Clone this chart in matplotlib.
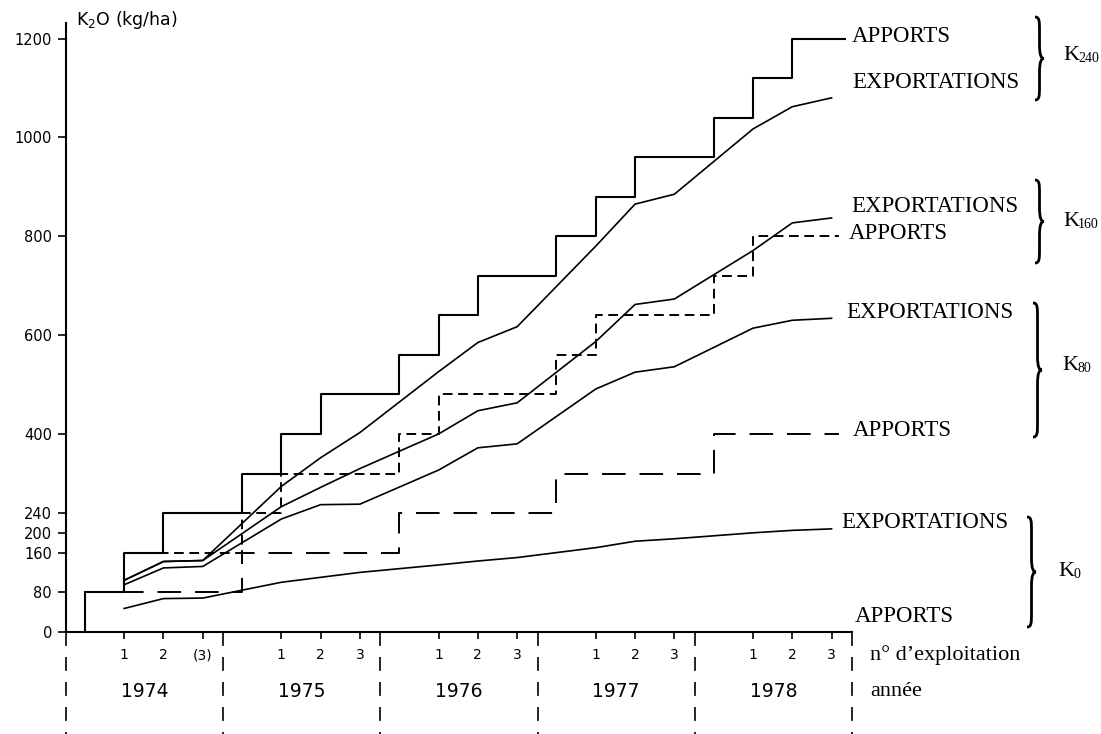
import matplotlib.pyplot as plt
import matplotlib.transforms as mtransforms
from matplotlib.path import Path
from matplotlib.patches import PathPatch

plt.rcParams['lines.scale_dashes'] = False

W, H = 1101, 734

annees = ['1974', '1975', '1976', '1977', '1978']
num_coupes = ['1', '2', '3']
# moments dans l'année (fraction d'année)
printemps = 0.12
coupes = [0.37, 0.62, 0.87]

# exportations cumulées de K2O (kg/ha) à chaque coupe
exp_k240 = [104, 142, 144, 294, 352, 403, 526, 585, 617, 780, 865, 885, 1017, 1062, 1080]
exp_k160 = [104, 142, 144, 253, 292, 330, 400, 447, 463, 587, 662, 673, 771, 827, 837]
exp_k80 = [95, 129, 132, 228, 257, 258, 327, 372, 380, 491, 525, 536, 614, 630, 634]
exp_k0 = [47, 67, 68, 100, 110, 120, 135, 143, 150, 170, 183, 188, 200, 205, 208]

# apports cumulés (kg/ha)
app_k240 = [80, 160, 240, 320, 400, 480, 560, 640, 720, 800, 880, 960, 1040, 1120, 1200]
app_k160 = [80, 160, 240, 320, 400, 480, 560, 640, 720, 800]
app_k80 = [80, 160, 240, 320, 400]

yticks = [0, 80, 160, 200, 240, 400, 600, 800, 1000, 1200]

x_coupes = [i + c for i in range(len(annees)) for c in coupes]
t_k240 = [i + t for i in range(len(annees)) for t in (printemps, coupes[0], coupes[1])]
t_k160 = [i + t for i in range(len(annees)) for t in (printemps, coupes[0])]
t_k80 = [i + printemps for i in range(len(annees))]


def px(x, y):
    return x / W, 1 - y / H


def marches(t, v, fin):
    return [t[0]] + t + [fin], [0] + v + [v[-1]]


fig = plt.figure(figsize=(W / 100, H / 100), dpi=100)
ax = fig.add_axes([66 / W, 102.3 / H, (852 - 66) / W, 609 / H])
ax.set_xlim(0, 5)
ax.set_ylim(0, 1232)

noir = 'black'
x, y = marches(t_k80, app_k80, 4.92)
ax.plot(x, y, drawstyle='steps-post', color=noir, lw=1.4, ls=(0, (17, 10)))
x, y = marches(t_k160, app_k160, 4.92)
ax.plot(x, y, drawstyle='steps-post', color=noir, lw=1.4, ls=(0, (7, 4)))
x, y = marches(t_k240, app_k240, 4.955)
ax.plot(x, y, drawstyle='steps-post', color=noir, lw=1.5)

for serie in (exp_k240, exp_k160, exp_k80, exp_k0):
    ax.plot(x_coupes, serie, color=noir, lw=1.2)

for s in ('top', 'right'):
    ax.spines[s].set_visible(False)
ax.spines['left'].set_linewidth(1.5)
ax.spines['bottom'].set_linewidth(1.5)

ax.set_yticks(yticks)
ax.set_yticklabels([str(v) for v in yticks])
ax.tick_params(axis='y', direction='out', length=6, width=1.2, pad=4, labelsize=10.5)

lab_x = num_coupes * len(annees)
lab_x[2] = '(3)'
ax.set_xticks(x_coupes)
ax.set_xticklabels(lab_x)
ax.tick_params(axis='x', direction='out', length=5, width=1.2, pad=7, labelsize=10)

trans = mtransforms.blended_transform_factory(ax.transData, ax.transAxes)
for i in range(len(annees) + 1):
    ax.plot([i, i], [0, -0.17], transform=trans, color=noir, lw=1.2,
            ls=(0, (10, 8)), clip_on=False)
for i, a in enumerate(annees):
    ax.text(i + 0.5, -0.098, a, transform=trans, ha='center', va='center',
            fontsize=13.5)

fig.text(*px(76, 20), r'K$_2$O (kg/ha)', fontsize=12.5, va='center', ha='left')

serif = 'Liberation Serif'
etiquettes = [
    (852, 37, 'APPORTS'), (852, 82, 'EXPORTATIONS'),
    (851, 207, 'EXPORTATIONS'), (849, 233, 'APPORTS'),
    (846, 313, 'EXPORTATIONS'), (853, 430, 'APPORTS'),
    (841, 523, 'EXPORTATIONS'), (855, 616, 'APPORTS'),
    (870, 655, 'n° d’exploitation'), (870, 692, 'année'),
]
for xp, yp, t in etiquettes:
    fig.text(*px(xp, yp), t, family=serif, fontsize=16.5 if t.isupper() else 16,
             ha='left', va='center')

traitements = [('240', 1063, 55), ('160', 1063, 222), ('80', 1062, 365), ('0', 1058, 572)]
for sub, xp, yp in traitements:
    fig.text(*px(xp, yp), 'K', family=serif, fontsize=16, ha='left', va='center')
    fig.text(*px(xp + 15, yp + 3), sub, family=serif, fontsize=10, ha='left', va='center')


def accolade(x0, yt, yb, w=9):
    ym = (yt + yb) / 2
    h = yb - yt
    q = min(14, 0.17 * h)
    xs = x0 + w / 2
    pts = [
        (x0, yt), (xs, yt), (xs, yt + q * 0.3), (xs, yt + q),
        (xs, ym - q),
        (xs, ym - q * 0.2), (x0 + w * 0.7, ym), (x0 + w, ym),
        (x0 + w * 0.7, ym), (xs, ym + q * 0.2), (xs, ym + q),
        (xs, yb - q),
        (xs, yb - q * 0.3), (xs, yb), (x0, yb),
    ]
    codes = [Path.MOVETO, Path.CURVE4, Path.CURVE4, Path.CURVE4, Path.LINETO,
             Path.CURVE4, Path.CURVE4, Path.CURVE4,
             Path.CURVE4, Path.CURVE4, Path.CURVE4, Path.LINETO,
             Path.CURVE4, Path.CURVE4, Path.CURVE4]
    verts = [px(a, b) for a, b in pts]
    fig.add_artist(PathPatch(Path(verts, codes), transform=fig.transFigure,
                             fill=False, lw=2, color=noir))


accolade(1035, 17, 100)
accolade(1035, 180, 263)
accolade(1033, 303, 437)
accolade(1027, 517, 627)

fig.savefig('out.png', dpi=100)
